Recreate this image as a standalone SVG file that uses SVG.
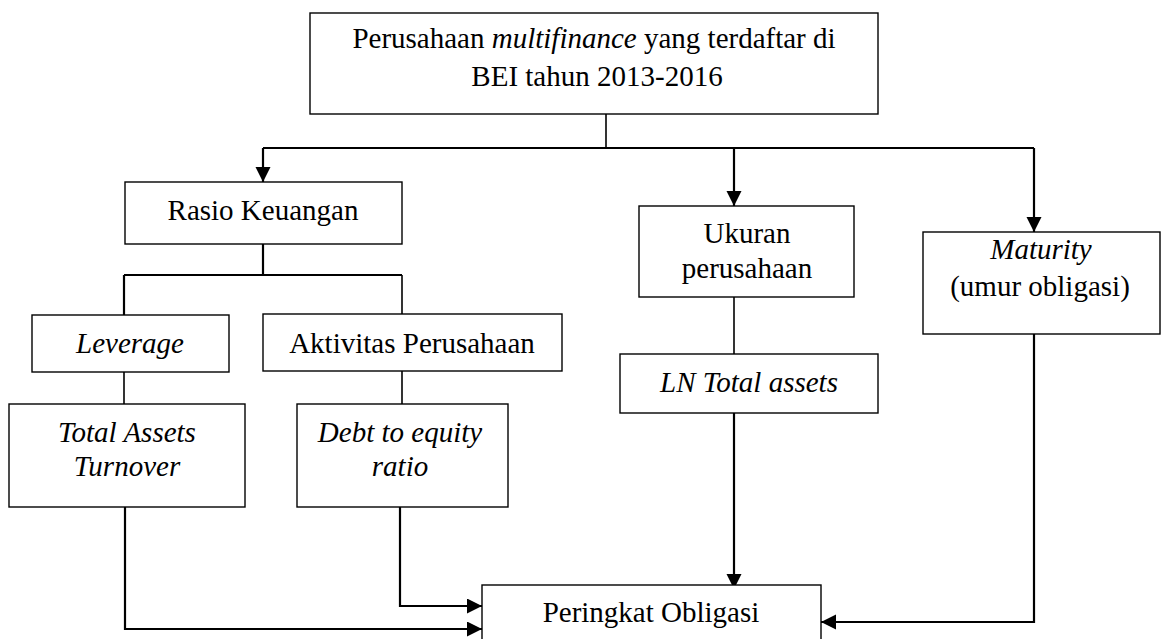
<svg xmlns="http://www.w3.org/2000/svg" width="1161" height="639" viewBox="0 0 1161 639">
<style>
.box{fill:#fff;stroke:#000;stroke-width:1.4}
.t{font-family:"Liberation Serif","Times New Roman",serif;font-size:29px;fill:#000;text-anchor:middle}
.i{font-style:italic}
.c{fill:none;stroke:#000;stroke-width:2.2}
.l{fill:none;stroke:#000;stroke-width:1.6}
</style>
<defs>
<marker id="ah" markerUnits="userSpaceOnUse" markerWidth="16" markerHeight="16" refX="15" refY="7.5" orient="auto">
<path d="M0,0 L15,7.5 L0,15 z" fill="#000"/>
</marker>
</defs>
<g id="connectors">
<path class="l" d="M606,114 V148"/>
<path class="c" d="M263,148 H1034"/>
<path class="c" d="M263,148 V182" marker-end="url(#ah)"/>
<path class="c" d="M734,148 V206" marker-end="url(#ah)"/>
<path class="c" d="M1034,148 V232" marker-end="url(#ah)"/>
<path class="c" d="M263,244 V275"/>
<path class="c" d="M124,275 H402"/>
<path class="c" d="M124,275 V315"/>
<path class="l" d="M402,275 V315"/>
<path class="l" d="M124,372 V404"/>
<path class="l" d="M402,371 V404"/>
<path class="l" d="M734,297 V354"/>
<path class="c" d="M734,413 V589" marker-end="url(#ah)"/>
<path class="c" d="M125,507 V629 H482" marker-end="url(#ah)"/>
<path class="c" d="M400,507 V606 H482" marker-end="url(#ah)"/>
<path class="c" d="M1034,334 V622 H821" marker-end="url(#ah)"/>
</g>
<g id="n-top">
<rect class="box" x="310" y="13" width="568" height="101"/>
<text class="t" x="594" y="48">Perusahaan <tspan class="i">multifinance</tspan> yang terdaftar di</text>
<text class="t" x="597" y="86">BEI tahun 2013-2016</text>
</g>
<g id="n-rasio">
<rect class="box" x="125" y="182" width="277" height="62"/>
<text class="t" x="263" y="220">Rasio Keuangan</text>
</g>
<g id="n-leverage">
<rect class="box" x="32" y="315" width="197" height="57"/>
<text class="t i" x="130" y="353">Leverage</text>
</g>
<g id="n-aktivitas">
<rect class="box" x="263" y="314" width="299" height="57"/>
<text class="t" x="412" y="353">Aktivitas Perusahaan</text>
</g>
<g id="n-tato">
<rect class="box" x="9" y="404" width="236" height="103"/>
<text class="t i" x="127" y="442">Total Assets</text>
<text class="t i" x="127" y="476">Turnover</text>
</g>
<g id="n-der">
<rect class="box" x="297" y="404" width="211" height="103"/>
<text class="t i" x="400" y="442">Debt to equity</text>
<text class="t i" x="400" y="476">ratio</text>
</g>
<g id="n-ukuran">
<rect class="box" x="639" y="206" width="215" height="91"/>
<text class="t" x="747" y="243">Ukuran</text>
<text class="t" x="747" y="278">perusahaan</text>
</g>
<g id="n-ln">
<rect class="box" x="620" y="354" width="258" height="59"/>
<text class="t i" x="749" y="392">LN Total assets</text>
</g>
<g id="n-maturity">
<rect class="box" x="923" y="232" width="237" height="102"/>
<text class="t i" x="1041" y="259">Maturity</text>
<text class="t" x="1040" y="296">(umur obligasi)</text>
</g>
<g id="n-peringkat">
<rect class="box" x="482" y="585" width="339" height="60"/>
<text class="t" x="651" y="622">Peringkat Obligasi</text>
</g>
</svg>
